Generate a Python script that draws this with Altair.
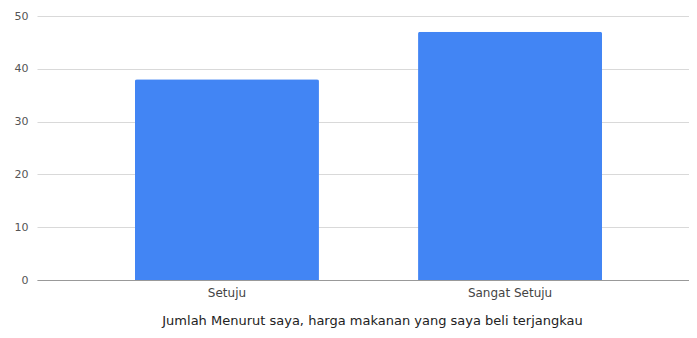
import altair as alt
import pandas as pd

categories = ["Setuju", "Sangat Setuju"]
values = [38, 47]
y_ticks = [0, 10, 20, 30, 40, 50]
x_title = "Jumlah Menurut saya,  harga makanan yang saya beli terjangkau"

df = pd.DataFrame({"kategori": categories, "jumlah": values})

FONT = "DejaVu Sans"

chart = (
    alt.Chart(df)
    .mark_bar(color="#4285F4", cornerRadiusTopLeft=2, cornerRadiusTopRight=2)
    .encode(
        x=alt.X(
            "kategori:N",
            sort=categories,
            title=x_title,
            scale=alt.Scale(paddingInner=0.35, paddingOuter=0.346, range=[0, 663]),
            axis=alt.Axis(
                labelAngle=0,
                domainColor="#999999",
                ticks=False,
                labelColor="#444444",
                labelFontSize=12,
                labelFont=FONT,
                labelPadding=7,
                titleFont=FONT,
                titleFontSize=13,
                titleFontWeight="normal",
                titleColor="#222222",
                titlePadding=16,
                titleX=335,
            ),
        ),
        y=alt.Y(
            "jumlah:Q",
            scale=alt.Scale(domain=[0, 50]),
            axis=alt.Axis(
                values=y_ticks,
                title=None,
                domain=False,
                ticks=False,
                labelColor="#555555",
                labelFont=FONT,
                labelFontSize=11,
                labelPadding=9,
                gridColor="#d9d9d9",
            ),
        ),
    )
    .properties(
        width=652,
        height=264,
        autosize="none",
        padding={"left": 29, "top": 8, "right": 0, "bottom": 50},
    )
    .configure_view(stroke=None)
)

chart.save("out.html", embed_options={"renderer": "svg", "actions": False})
